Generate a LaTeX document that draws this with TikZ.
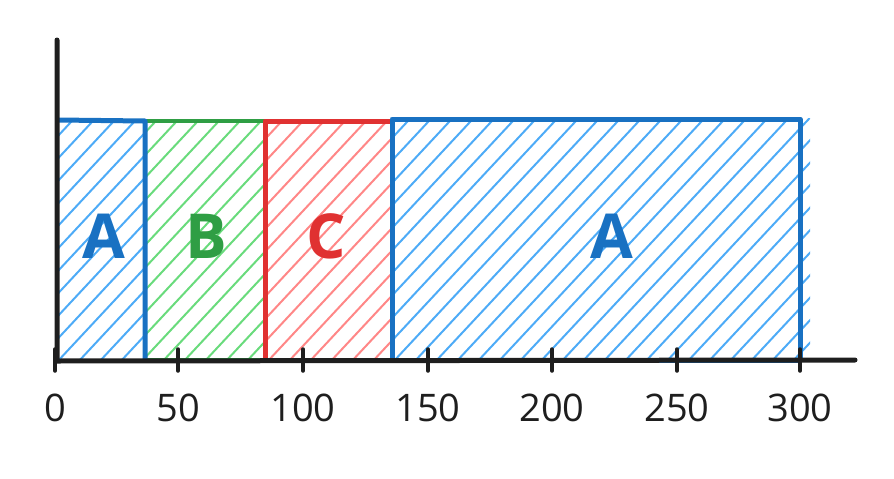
\documentclass[tikz,border=0pt]{standalone}
\usepackage{fontspec}
\setmainfont{Open Sans}
\definecolor{bluestroke}{HTML}{1971C2}
\definecolor{bluefill}{HTML}{4DABF7}
\definecolor{greenstroke}{HTML}{2F9E44}
\definecolor{greenfill}{HTML}{69DB7C}
\definecolor{redstroke}{HTML}{E03131}
\definecolor{redfill}{HTML}{FF8787}
\definecolor{ink}{HTML}{1E1E1E}
\newcommand\myhatch[5]{%
  \begin{scope}
    \clip (#2,#3) rectangle (#4,#5);
    \foreach \s in {-300,-279,...,900}
      \draw[#1,line width=2pt,line cap=round] (\s,#5) -- ++(280,-300);
  \end{scope}}
\begin{document}
\begin{tikzpicture}[x=1pt,y=-1pt,
  axisline/.style={ink,line width=5pt,line cap=round},
  tickmark/.style={ink,line width=3.5pt,line cap=round},
  barA/.style={bluestroke,line width=5pt,line join=round},
  barB/.style={greenstroke,line width=3.5pt,line join=round},
  barC/.style={redstroke,line width=5pt,line join=round},
  bigletter/.style={font=\fontsize{62}{66}\selectfont\bfseries},
  ticklabel/.style={ink,font=\fontsize{38}{42}\selectfont}]
\useasboundingbox (0,0) rectangle (894,479);
% hatching
\myhatch{bluefill}{57}{120}{145}{362}
\myhatch{greenfill}{145}{120}{265}{362}
\myhatch{redfill}{265}{120}{392}{362}
\myhatch{bluefill}{392}{118}{810}{362}
% bar outlines
\draw[barB] (145,121) rectangle (265,360);
\draw[barA] (57,120) -- (145,121) -- (145,360);
\draw[barC] (265,121) rectangle (392,360);
\draw[barA] (392,119) rectangle (800,360);
% labels in bars
\node[bigletter,text=bluestroke] (la1) at (104,236) {A};
\node[bigletter,text=greenstroke] (lb) at (206,236) {B};
\node[bigletter,text=redstroke] (lc) at (326,236) {C};
\node[bigletter,text=bluestroke] (la2) at (612,236) {A};
% axes
\coordinate (origin) at (57,361);
\coordinate (ytop) at (57,40);
\coordinate (xend) at (855,360);
\draw[axisline] (ytop) -- (origin) -- (xend);
% ticks
\foreach \xp/\lab/\nm in {55/0/t0,178/50/t1,303/100/t2,428/150/t3,552/200/t4,677/250/t5,800/300/t6}{
  \draw[tickmark] (\xp,349) -- (\xp,371);
  \node[ticklabel] (\nm) at (\xp,408) {\lab};
}
\end{tikzpicture}
\end{document}
